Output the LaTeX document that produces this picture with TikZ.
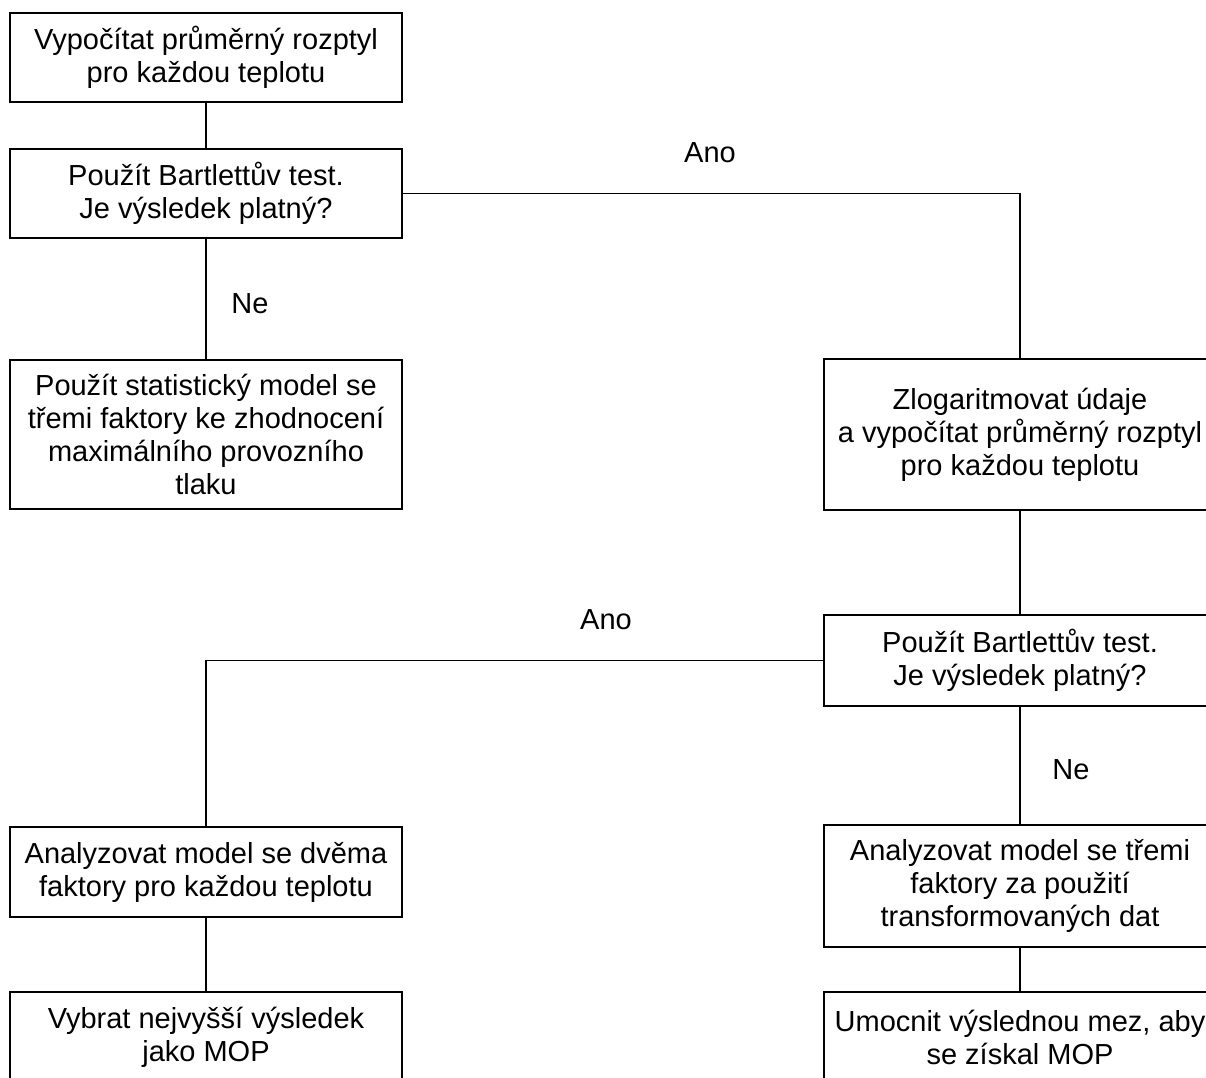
\documentclass[tikz,border=0pt]{standalone}
\usepackage{fontspec}
\setmainfont{Liberation Sans}
\begin{document}
\begin{tikzpicture}[x=1pt,y=-1pt,
  box/.style={draw,line width=1.9pt,minimum width=392pt,inner sep=0pt,align=center,
    font=\fontsize{29}{33}\selectfont},
  lbl/.style={inner sep=0pt,font=\fontsize{29}{33}\selectfont},
  conn/.style={line width=1.9pt}]
\useasboundingbox (0,0) rectangle (1206,1077);
\node[box,minimum height=89pt] (b1) at (206,57.5) {Vypočítat průměrný rozptyl\\pro každou teplotu};
\node[box,minimum height=89pt] (b2) at (206,193.5) {Použít Bartlettův test.\\Je výsledek platný?};
\node[box,minimum height=149pt] (b3) at (206,434.5) {Použít statistický model se\\třemi faktory ke zhodnocení\\maximálního provozního\\tlaku};
\node[box,minimum height=90pt] (b4) at (206,872) {Analyzovat model se dvěma\\faktory pro každou teplotu};
\node[box,minimum height=90pt] (b5) at (206,1037) {Vybrat nejvyšší výsledek\\jako MOP};
\node[box,minimum height=151pt] (zl) at (1020,434.5) {Zlogaritmovat údaje\\a vypočítat průměrný rozptyl\\pro každou teplotu};
\node[box,minimum height=91pt] (bt2) at (1020,660.5) {Použít Bartlettův test.\\Je výsledek platný?};
\node[box,minimum height=122pt] (a3) at (1020,886) {Analyzovat model se třemi\\faktory za použití\\transformovaných dat};
\node[box,minimum height=90pt] (um) at (1020,1037) {Umocnit výslednou mez, aby\\se získal MOP};
\node[lbl] (ano1) at (710,153) {Ano};
\node[lbl] (ne1) at (250,304) {Ne};
\node[lbl] (ano2) at (606,620) {Ano};
\node[lbl] (ne2) at (1071,770) {Ne};
\draw[conn] (b1) -- (b2);
\draw[conn] (b2) -- (b3);
\draw[conn] (b2.east) -| (zl.north);
\draw[conn] (zl) -- (bt2);
\draw[conn] (bt2.west) -| (b4.north);
\draw[conn] (bt2) -- (a3);
\draw[conn] (a3) -- (um);
\draw[conn] (b4) -- (b5);
\end{tikzpicture}
\end{document}
